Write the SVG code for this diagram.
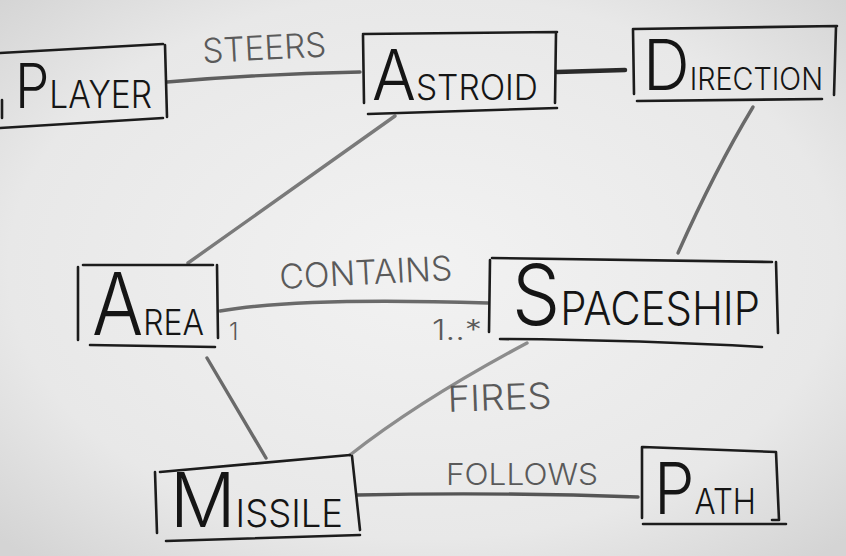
<svg xmlns="http://www.w3.org/2000/svg" width="846" height="556" viewBox="0 0 846 556">
<defs>
<radialGradient id="board" cx="50%" cy="48%" r="70%">
<stop offset="0" stop-color="#f2f2f2"/>
<stop offset="0.7" stop-color="#e8e8e8"/>
<stop offset="1" stop-color="#d4d4d4"/>
</radialGradient>
<style>
.box{fill:none;stroke:#1c1c1c;stroke-width:2.6;stroke-linecap:round;stroke-linejoin:round}
.conn{fill:none;stroke:#5e5e5e;stroke-width:3.4;stroke-linecap:round}
.name{font-family:"Inter","Liberation Sans",sans-serif;font-weight:300;fill:#151515}
.lbl{font-family:"Inter","Liberation Sans",sans-serif;font-weight:300;fill:#5a5a5a}
</style>
</defs>
<rect width="846" height="556" fill="url(#board)"/>

<g id="connectors">
<path class="conn" d="M167,82 Q260,74 360,72"/>
<path class="conn" d="M557,72 L625,70" style="stroke:#2a2a2a;stroke-width:4.5"/>
<path class="conn" d="M395,116 L188,263" style="stroke:#7a7a7a"/>
<path class="conn" d="M753,107 Q715,170 678,253" style="stroke:#6a6a6a"/>
<path class="conn" d="M220,311 Q300,297 488,303" style="stroke:#6a6a6a"/>
<path class="conn" d="M207,358 L266,458" style="stroke:#6a6a6a"/>
<path class="conn" d="M527,343 Q420,400 350,455" style="stroke:#8c8c8c"/>
<path class="conn" d="M357,495 Q500,492 638,497" style="stroke:#555555"/>
<text class="lbl" x="203" y="63" font-size="34" textLength="124" lengthAdjust="spacingAndGlyphs" transform="rotate(-3 203 63)">STEERS</text>
<text class="lbl" x="280" y="289" font-size="34" textLength="173" lengthAdjust="spacingAndGlyphs" transform="rotate(-3 280 289)">CONTAINS</text>
<text class="lbl" x="229" y="340" font-size="24">1</text>
<text class="lbl" x="432" y="340" font-size="28" textLength="50" lengthAdjust="spacingAndGlyphs">1..*</text>
<text class="lbl" x="448" y="412" font-size="36" textLength="104" lengthAdjust="spacingAndGlyphs" transform="rotate(-2 448 412)">FIRES</text>
<text class="lbl" x="446" y="485" font-size="30" textLength="152" lengthAdjust="spacingAndGlyphs">FOLLOWS</text>
</g>

<g id="player">
<path class="box" d="M0,53 L163,44 M165,45 L167,117 M0,128 L163,118 M2,100 L2,118"/>
<text class="name" x="15" y="108" textLength="137" lengthAdjust="spacingAndGlyphs"><tspan font-size="62">P</tspan><tspan font-size="38">LAYER</tspan></text>
</g>

<g id="astroid">
<path class="box" d="M363,34 L557,32 M363,35 L364,103 M556,33 L555,103 M368,114 L557,108"/>
<text class="name" x="372" y="100" textLength="166" lengthAdjust="spacingAndGlyphs"><tspan font-size="70">A</tspan><tspan font-size="36">STROID</tspan></text>
</g>

<g id="direction">
<path class="box" d="M634,29 L837,26 M633,29 L634,94 M836,27 L834,95 M637,101 L822,99"/>
<text class="name" x="643" y="90" textLength="180" lengthAdjust="spacingAndGlyphs"><tspan font-size="70">D</tspan><tspan font-size="31">IRECTION</tspan></text>
</g>

<g id="area">
<path class="box" d="M83,265 L213,265 M78,267 L78,340 M217,265 L218,338 M90,345 L215,347"/>
<text class="name" x="92" y="335" textLength="112" lengthAdjust="spacingAndGlyphs"><tspan font-size="86">A</tspan><tspan font-size="36">REA</tspan></text>
</g>

<g id="spaceship">
<path class="box" d="M492,258 L772,262 M490,260 L489,332 M776,262 L778,333 M500,339 Q640,340 762,347"/>
<text class="name" x="512" y="325" textLength="248" lengthAdjust="spacingAndGlyphs"><tspan font-size="84">S</tspan><tspan font-size="46">PACESHIP</tspan></text>
</g>

<g id="missile">
<path class="box" d="M160,472 L350,455 M155,472 L157,533 M352,456 L360,530 M166,541 L360,535"/>
<text class="name" x="170" y="527" textLength="173" lengthAdjust="spacingAndGlyphs"><tspan font-size="76">M</tspan><tspan font-size="38">ISSILE</tspan></text>
</g>

<g id="path">
<path class="box" d="M643,447 L776,452 M642,447 L642,518 M776,452 L779,520 L772,520 M643,524 L786,524"/>
<text class="name" x="654" y="514" textLength="102" lengthAdjust="spacingAndGlyphs"><tspan font-size="72">P</tspan><tspan font-size="35">ATH</tspan></text>
</g>
</svg>
